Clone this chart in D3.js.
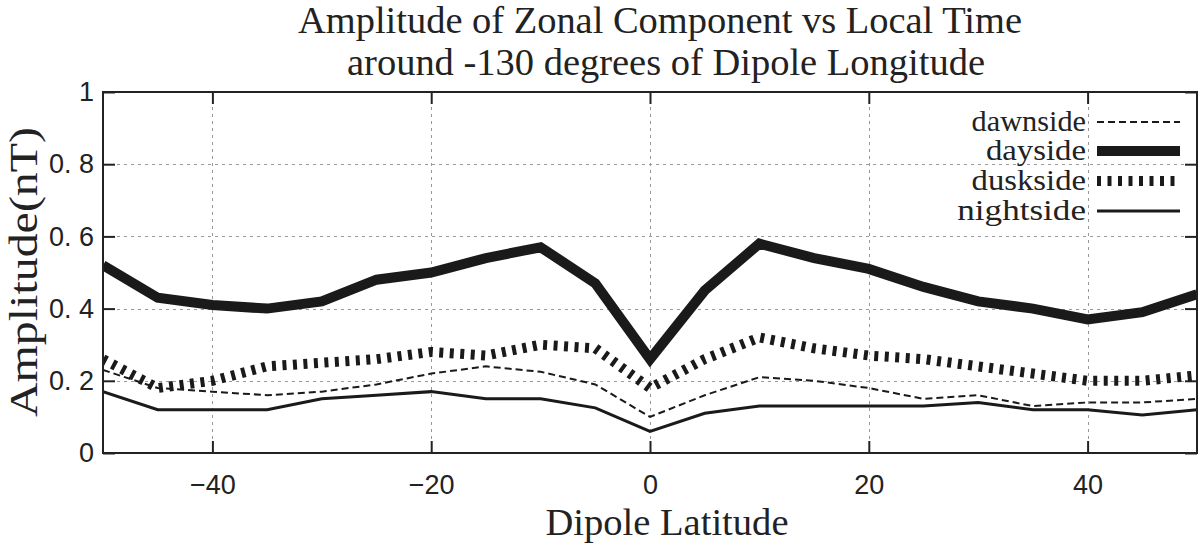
<!DOCTYPE html>
<html>
<head>
<meta charset="utf-8">
<script src="https://cdn.jsdelivr.net/npm/d3@7"></script>
<style>
  body { margin: 0; background: #fff; }
  svg { display: block; }
</style>
</head>
<body>
<div id="chart"></div>
<script>
// latitudes every 5 degrees
var latitudes = [-50, -45, -40, -35, -30, -25, -20, -15, -10, -5, 0, 5, 10, 15, 20, 25, 30, 35, 40, 45, 50];

var dawnside  = [0.23, 0.18, 0.17, 0.16, 0.17, 0.19, 0.22, 0.24, 0.225, 0.19, 0.10, 0.16, 0.21, 0.20, 0.18, 0.15, 0.16, 0.13, 0.14, 0.14, 0.15];
var dayside   = [0.52, 0.43, 0.41, 0.40, 0.42, 0.48, 0.50, 0.54, 0.57, 0.47, 0.26, 0.45, 0.58, 0.54, 0.51, 0.46, 0.42, 0.40, 0.37, 0.39, 0.44];
var duskside  = [0.26, 0.18, 0.20, 0.24, 0.25, 0.26, 0.28, 0.27, 0.30, 0.29, 0.18, 0.26, 0.32, 0.29, 0.27, 0.26, 0.24, 0.22, 0.20, 0.20, 0.215];
var nightside = [0.17, 0.12, 0.12, 0.12, 0.15, 0.16, 0.17, 0.15, 0.15, 0.125, 0.06, 0.11, 0.13, 0.13, 0.13, 0.13, 0.14, 0.12, 0.12, 0.105, 0.12];

var xTicks = [-40, -20, 0, 20, 40];
var yTicks = [0, 0.2, 0.4, 0.6, 0.8, 1];
var yTickLabels = ["0", "0. 2", "0. 4", "0. 6", "0. 8", "1"];

var seriesNames = ["dawnside", "dayside", "duskside", "nightside"];
var seriesValues = [dawnside, dayside, duskside, nightside];

// line styles per series
var styles = {
    dawnside:  { width: 2,  dash: "7,4" },
    dayside:   { width: 10, dash: null },
    duskside:  { width: 10, dash: "4,6.5" },
    nightside: { width: 3,  dash: null }
};

var width = 1200, height = 548;
var margin = { left: 103, right: 3, top: 92, bottom: 95 };

var svg = d3.select("#chart").append("svg")
    .attr("width", width)
    .attr("height", height);

var x = d3.scaleLinear().domain([-50, 50]).range([margin.left, width - margin.right]);
var y = d3.scaleLinear().domain([0, 1]).range([height - margin.bottom, margin.top]);

var serif = "'Liberation Serif', 'Times New Roman', serif";
var sans = "'Liberation Sans', Arial, sans-serif";

svg.append("defs").append("clipPath").attr("id", "clip")
    .append("rect")
    .attr("x", x(-50)).attr("y", y(1))
    .attr("width", x(50) - x(-50)).attr("height", y(0) - y(1));

// grid
var grid = svg.append("g").attr("stroke", "#999").attr("stroke-width", 1).attr("stroke-dasharray", "3,4");
grid.selectAll("line.gx").data(xTicks).enter().append("line")
    .attr("x1", function(d) { return Math.round(x(d)) + 0.5; })
    .attr("x2", function(d) { return Math.round(x(d)) + 0.5; })
    .attr("y1", y(0)).attr("y2", y(1));
grid.selectAll("line.gy").data(yTicks.slice(1, -1)).enter().append("line")
    .attr("y1", function(d) { return Math.round(y(d)) + 0.5; })
    .attr("y2", function(d) { return Math.round(y(d)) + 0.5; })
    .attr("x1", x(-50)).attr("x2", x(50));

// axes with inward ticks
var tickLen = 12;
function styleAxis(g) {
    g.select(".domain").remove();
    g.selectAll("text").attr("font-family", sans).attr("font-size", 27).attr("fill", "#222");
    g.selectAll("line").attr("stroke", "#222").attr("stroke-width", 2);
}
svg.append("g")
    .attr("transform", "translate(0," + y(0) + ")")
    .call(d3.axisBottom(x).tickValues(xTicks).tickSize(-tickLen).tickPadding(22)
        .tickFormat(function(d) { return d < 0 ? "\u2212" + Math.abs(d) : d; }))
    .call(styleAxis);
svg.append("g")
    .attr("transform", "translate(0," + y(1) + ")")
    .call(d3.axisTop(x).tickValues(xTicks).tickSize(-tickLen).tickFormat(""))
    .call(styleAxis);
svg.append("g")
    .attr("transform", "translate(" + x(-50) + ",0)")
    .call(d3.axisLeft(y).tickValues(yTicks).tickSize(-tickLen).tickPadding(9)
        .tickFormat(function(d, i) { return yTickLabels[i]; }))
    .call(styleAxis);
svg.append("g")
    .attr("transform", "translate(" + x(50) + ",0)")
    .call(d3.axisRight(y).tickValues(yTicks).tickSize(-tickLen).tickFormat(""))
    .call(styleAxis);

// series
var line = d3.line()
    .x(function(d) { return x(d[0]); })
    .y(function(d) { return y(d[1]); });

var plot = svg.append("g").attr("clip-path", "url(#clip)");
seriesNames.forEach(function(name, k) {
    var pts = latitudes.map(function(lat, i) { return [lat, seriesValues[k][i]]; });
    plot.append("path")
        .datum(pts)
        .attr("d", line)
        .attr("fill", "none")
        .attr("stroke", "#1a1a1a")
        .attr("stroke-width", styles[name].width)
        .attr("stroke-dasharray", styles[name].dash)
        .attr("stroke-linejoin", "miter");
});

// frame
svg.append("rect")
    .attr("x", x(-50)).attr("y", y(1))
    .attr("width", x(50) - x(-50)).attr("height", y(0) - y(1))
    .attr("fill", "none").attr("stroke", "#222").attr("stroke-width", 2);

// legend
var legendY = [122, 151, 181, 211];
var legend = svg.append("g");
seriesNames.forEach(function(name, k) {
    legend.append("text")
        .attr("x", 1086).attr("y", legendY[k] + 9)
        .attr("text-anchor", "end")
        .attr("font-family", serif).attr("font-size", 29).attr("fill", "#222")
        .attr("textLength", name.length * 14.3).attr("lengthAdjust", "spacingAndGlyphs")
        .text(name);
    legend.append("line")
        .attr("x1", 1097).attr("x2", 1180)
        .attr("y1", legendY[k]).attr("y2", legendY[k])
        .attr("stroke", "#1a1a1a")
        .attr("stroke-width", styles[name].width)
        .attr("stroke-dasharray", styles[name].dash);
});

// titles
function label(xp, yp, txt, size, len, rot) {
    var t = svg.append("text")
        .attr("text-anchor", "middle")
        .attr("font-family", serif).attr("font-size", size).attr("fill", "#222")
        .attr("textLength", len).attr("lengthAdjust", "spacingAndGlyphs")
        .text(txt);
    if (rot) t.attr("transform", "translate(" + xp + "," + yp + ") rotate(-90)");
    else t.attr("x", xp).attr("y", yp);
    return t;
}
label(660, 33, "Amplitude of Zonal Component vs Local Time", 37, 724);
label(666, 75, "around -130 degrees of Dipole Longitude", 37, 638);
label(667, 535, "Dipole Latitude", 38.5, 243);
label(37, 272, "Amplitude(nT)", 41, 290, true);
</script>
</body>
</html>
